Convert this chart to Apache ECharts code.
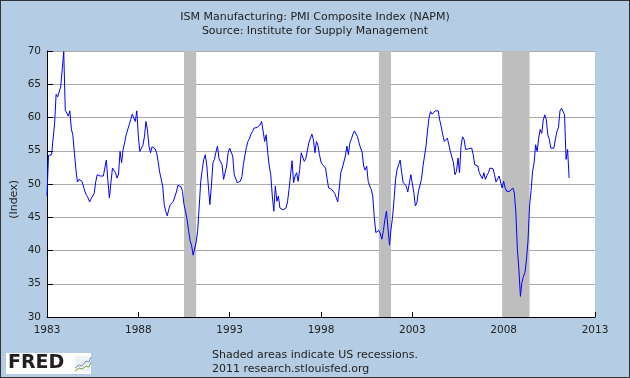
<!DOCTYPE html>
<html><head><meta charset="utf-8">
<script src="https://cdn.jsdelivr.net/npm/echarts@6/dist/echarts.min.js"></script>
<style>
html,body{margin:0;padding:0;}
#c{width:630px;height:378px;box-sizing:border-box;border:1px solid #333;background:#B4CDE4;}
</style></head>
<body><div id="c"></div>
<script>
// Monthly ISM PMI, Jan 1983 .. Jul 2011
const startYear = 1983;
const pmi1983_1988 = [48.3,54.3,54.1,54.4,56.8,59.1,63.5,63.1,62.9,64.6,67.2,69.9,
 61.1,61.1,60.2,61.0,58.3,57.3,54.7,52.2,50.3,50.7,50.4,50.4,
 50.1,48.8,48.3,47.9,47.3,47.8,47.8,48.6,50.3,51.4,51.4,51.2,
 51.3,51.2,50.9,53.6,50.5,47.9,50.2,52.4,52.2,51.7,50.9,51.5,
 54.9,53.2,55.2,56.2,57.4,57.6,58.9,59.7,60.5,60.6,59.4,61.0];
const pmi1988_1993 = [57.2,54.9,55.4,55.8,57.1,59.4,58.1,55.7,54.7,55.6,55.9,55.3,
 54.7,53.4,51.8,51.7,49.7,46.9,45.9,45.2,46.2,46.9,47.2,47.4,
 47.6,48.8,49.8,50.0,49.6,48.9,46.9,45.9,44.7,43.0,41.5,40.7,
 39.3,39.6,41.3,43.0,46.7,50.4,52.2,53.7,54.4,52.7,49.7,46.9,
 49.7,53.2,53.7,54.8,55.7,53.8,53.8,52.9,50.7,50.7,52.7,54.7];
const pmi1993_1998 = [55.4,55.4,54.2,51.4,51.1,50.2,50.0,50.4,51.1,52.9,54.3,55.5,
 56.4,56.8,57.5,57.9,58.4,58.7,58.5,58.5,58.9,59.4,59.4,56.4,
 57.4,54.7,52.7,51.4,48.2,45.9,49.7,47.4,48.2,46.4,46.2,46.1,
 45.8,46.4,47.3,49.2,49.2,53.5,50.2,51.2,51.7,50.4,52.2,54.7,
 54.9,53.4,53.8,53.8,56.2,56.3,57.5,56.7,54.7,56.4,55.8,54.4];
const pmi1998_2003 = [53.3,52.9,52.7,52.4,50.8,49.4,49.2,49.2,48.9,48.6,48.3,47.3,
 49.4,51.7,52.4,52.7,54.2,55.7,54.4,56.2,56.8,57.5,58.0,57.7,
 57.1,56.2,55.4,54.8,52.7,52.1,52.7,50.4,49.7,49.2,48.2,45.0,
 42.7,42.5,43.0,42.5,41.7,43.0,44.7,45.9,46.2,40.8,43.2,45.0,
 47.7,50.7,52.2,52.9,53.6,51.7,50.2,50.3,49.7,48.8,48.9,51.4];
const pmi2003_2008 = [51.4,48.7,46.7,47.2,48.9,48.9,50.7,52.7,54.2,55.7,58.1,60.0,
 60.9,60.5,60.4,61.0,61.2,61.0,59.6,58.6,57.4,56.4,56.4,56.9,
 56.9,54.9,54.9,53.2,51.4,51.9,53.9,51.7,55.7,57.1,56.7,55.2,
 54.9,55.3,55.2,55.4,54.4,52.9,52.9,52.7,51.7,51.2,50.8,51.7,
 50.7,51.3,51.7,52.4,52.4,52.3,51.4,50.3,50.4,51.2,51.2,49.4];
const pmi2008_2011 = [50.4,49.4,48.9,48.8,48.9,49.0,49.4,48.7,45.7,40.2,37.2,33.1,
 35.2,36.1,36.7,38.7,41.5,46.7,49.0,51.9,53.2,55.9,54.9,56.9,
 58.2,57.6,59.6,60.4,59.7,57.4,56.7,55.4,55.2,55.4,56.8,57.9,
 58.5,61.0,61.4,61.1,60.4,53.7,55.2,50.9];
const pmiValues = [].concat(pmi1983_1988, pmi1988_1993, pmi1993_1998, pmi1998_2003, pmi2003_2008, pmi2008_2011);

// Recessions (start, end) as fractional years
const recessionStart = [1990.5, 2001.167, 2007.917];
const recessionEnd   = [1991.167, 2001.833, 2009.417];

const yTicks = [30,35,40,45,50,55,60,65,70];
const xTicks = [1983,1988,1993,1998,2003,2008,2013];

const seriesData = pmiValues.map((v,i)=>[startYear + i/12, v]);
const recessionAreas = recessionStart.map((s,i)=>[{xAxis:s},{xAxis:recessionEnd[i]}]);

const font = 'DejaVu Sans, Verdana, sans-serif';
const chart = echarts.init(document.getElementById('c'));
chart.setOption({
  animation:false,
  backgroundColor:'#B4CDE4',
  grid:{left:46,right:34,top:50,bottom:60,show:true,backgroundColor:'#ffffff',borderWidth:0},
  title:{
    text:'ISM Manufacturing: PMI Composite Index (NAPM)\nSource: Institute for Supply Management',
    left:'center', top:4,
    textStyle:{fontFamily:font,fontSize:11,fontWeight:'normal',color:'#222',lineHeight:14}
  },
  xAxis:{
    type:'value', min:xTicks[0], max:xTicks[xTicks.length-1], interval:5,
    axisLine:{lineStyle:{color:'#000',width:1}},
    axisTick:{inside:true,length:5,lineStyle:{color:'#000'}},
    axisLabel:{fontFamily:font,fontSize:10.5,color:'#222',margin:8,formatter:v=>String(v)},
    splitLine:{show:false}
  },
  yAxis:{
    type:'value', min:yTicks[0], max:yTicks[yTicks.length-1], interval:5,
    axisLine:{show:true,lineStyle:{color:'#000',width:1}},
    axisTick:{show:true,inside:true,length:6,lineStyle:{color:'#000'}},
    axisLabel:{fontFamily:font,fontSize:10.5,color:'#222',margin:6},
    splitLine:{lineStyle:{color:'#AAAAAA',width:1}}
  },
  graphic:[
    {type:'text',left:8,top:179,rotation:Math.PI/2,style:{text:'(Index)',font:'11px '+font,fill:'#222'}},
    {type:'text',left:'center',top:347,style:{text:'Shaded areas indicate US recessions.\n2011 research.stlouisfed.org',font:'11px '+font,fill:'#222',align:'center',lineHeight:14}},
    {type:'group',left:5,top:352,children:[
      {type:'rect',shape:{x:0,y:0,width:85,height:21},style:{fill:'#ffffff'}},
      {type:'text',x:2,y:1,style:{text:'FRED',font:'bold 19px '+font,fill:'#231f20'}},
      {type:'rect',shape:{x:69,y:3,width:15,height:15},style:{fill:'#eef2f6'}},
      {type:'polyline',shape:{points:[[69,15],[73,12],[76,13],[80,8],[83,9],[85,4]]},style:{stroke:'#6f8fb0',fill:null,lineWidth:1}},
      {type:'polyline',shape:{points:[[69,18],[73,15],[76,16],[80,13],[83,14],[85,9]]},style:{stroke:'#7aab3c',fill:null,lineWidth:1}}
    ]}
  ],
  series:[{
    type:'line', data:seriesData, showSymbol:false, symbol:'none',
    lineStyle:{color:'#0000FF',width:1},
    markArea:{silent:true,itemStyle:{color:'#BEBEBE'},data:recessionAreas},
    z:3
  }]
});
</script></body></html>
